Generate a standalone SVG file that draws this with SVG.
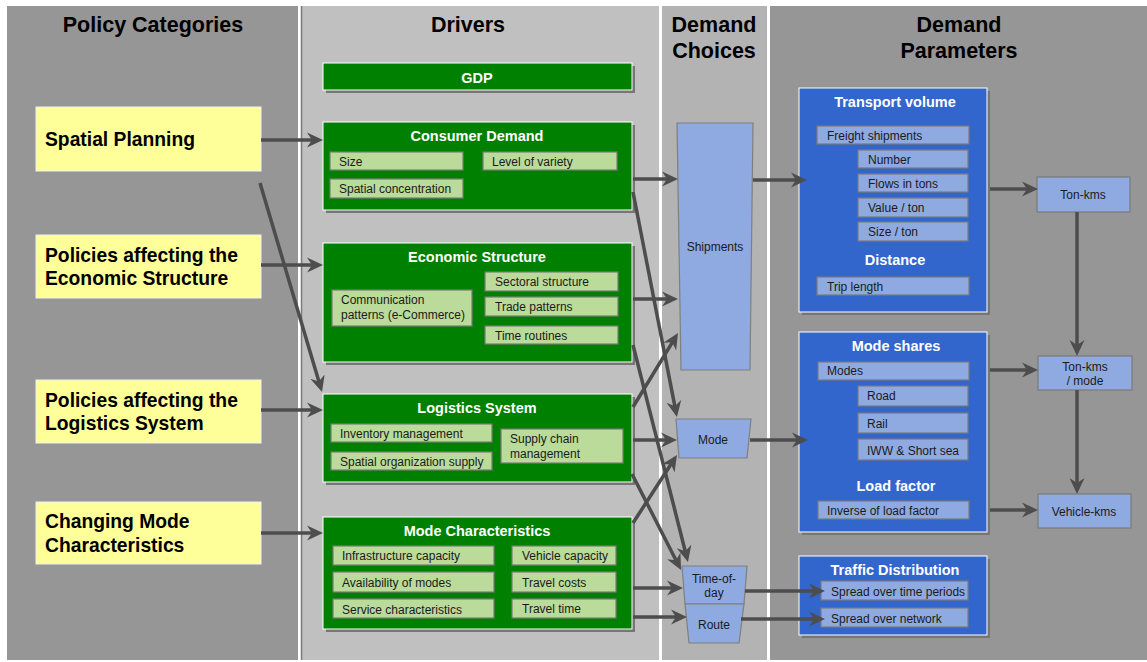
<svg xmlns="http://www.w3.org/2000/svg" width="1147" height="662" viewBox="0 0 1147 662">
  <defs>
    <marker id="arrow" viewBox="0 0 16 16" refX="10" refY="8" markerWidth="16" markerHeight="16" markerUnits="userSpaceOnUse" orient="auto">
      <path d="M0,0.5 L16,8 L0,15.5 L5,8 Z" fill="#4d4d4d"/>
    </marker>
  </defs>
  <style>
    text { font-family: "Liberation Sans", Arial, sans-serif; }
    .head { font-size: 21.5px; font-weight: bold; fill: #000; text-anchor: middle; }
    .policy rect { fill: #ffff99; stroke: #f0f0f0; stroke-width: 1; }
    .policy text { font-size: 19.3px; font-weight: bold; fill: #000; }
    .shadow { fill: #767676; }
    .green { fill: #008000; stroke: #ffffff; stroke-width: 1; }
    .blue { fill: #3366cc; stroke: #ffffff; stroke-width: 1; }
    .title { font-size: 14.5px; font-weight: bold; fill: #ffffff; text-anchor: middle; }
    .gsub { fill: #bbdb9b; stroke: #7a7a7a; stroke-width: 1.2; }
    .bsub { fill: #8faae0; stroke: #7a7a7a; stroke-width: 1.2; }
    .lbl { font-size: 12px; fill: #1a1a1a; }
    .mid { text-anchor: middle; }
    .choice { fill: #8faae0; stroke: #7f7f7f; stroke-width: 1.2; }
    .conn line { stroke: #4d4d4d; stroke-width: 3.5; marker-end: url(#arrow); }
  </style>

  <!-- column backgrounds -->
  <rect x="0" y="0" width="1147" height="662" fill="#ffffff"/>
  <rect x="7" y="6" width="291" height="654" fill="#969696"/>
  <rect x="302" y="6" width="357" height="654" fill="#c0c0c0"/>
  <line x1="301.5" y1="6" x2="301.5" y2="660" stroke="#7a7a7a" stroke-width="1.5"/>
  <rect x="662" y="6" width="105" height="654" fill="#b3b3b3"/>
  <rect x="770" y="6" width="377" height="654" fill="#969696"/>

  <!-- column headings -->
  <text class="head" x="153" y="32">Policy Categories</text>
  <text class="head" x="468" y="32">Drivers</text>
  <text class="head" x="714" y="32">Demand</text>
  <text class="head" x="714" y="58">Choices</text>
  <text class="head" x="959" y="32">Demand</text>
  <text class="head" x="959" y="58">Parameters</text>

  <!-- policy categories -->
  <g id="spatial-planning" class="policy">
    <rect x="36" y="107" width="225" height="64"/>
    <text x="45" y="146">Spatial Planning</text>
  </g>
  <g id="policy-economic" class="policy">
    <rect x="36" y="235" width="225" height="63"/>
    <text x="45" y="262">Policies affecting the</text>
    <text x="45" y="285">Economic Structure</text>
  </g>
  <g id="policy-logistics" class="policy">
    <rect x="36" y="380" width="225" height="63"/>
    <text x="45" y="407">Policies affecting the</text>
    <text x="45" y="430">Logistics System</text>
  </g>
  <g id="policy-mode" class="policy">
    <rect x="36" y="502" width="225" height="62"/>
    <text x="45" y="528">Changing Mode</text>
    <text x="45" y="552">Characteristics</text>
  </g>

  <!-- drivers -->
  <g id="gdp">
    <rect class="shadow" x="326" y="66" width="309" height="27"/>
    <rect class="green" x="323" y="63" width="309" height="27"/>
    <text class="title" x="477" y="82.5">GDP</text>
  </g>
  <g id="consumer-demand">
    <rect class="shadow" x="326" y="125" width="309" height="88"/>
    <rect class="green" x="323" y="122" width="309" height="88"/>
    <text class="title" x="477" y="141">Consumer Demand</text>
    <rect class="gsub" x="330" y="152" width="133" height="18"/>
    <text class="lbl" x="339" y="166">Size</text>
    <rect class="gsub" x="483" y="152" width="134" height="18"/>
    <text class="lbl" x="492" y="166">Level of variety</text>
    <rect class="gsub" x="330" y="179" width="133" height="19"/>
    <text class="lbl" x="339" y="193">Spatial concentration</text>
  </g>
  <g id="economic-structure">
    <rect class="shadow" x="326" y="246" width="309" height="119"/>
    <rect class="green" x="323" y="243" width="309" height="119"/>
    <text class="title" x="477" y="262">Economic Structure</text>
    <rect class="gsub" x="485" y="272" width="133" height="19"/>
    <text class="lbl" x="495" y="286">Sectoral structure</text>
    <rect class="gsub" x="485" y="297" width="133" height="19"/>
    <text class="lbl" x="495" y="311">Trade patterns</text>
    <rect class="gsub" x="485" y="326" width="133" height="18"/>
    <text class="lbl" x="495" y="340">Time routines</text>
    <rect class="gsub" x="332" y="290" width="140" height="36"/>
    <text class="lbl" x="341" y="304">Communication</text>
    <text class="lbl" x="341" y="319">patterns (e-Commerce)</text>
  </g>
  <g id="logistics-system">
    <rect class="shadow" x="326" y="397" width="309" height="88"/>
    <rect class="green" x="323" y="394" width="309" height="88"/>
    <text class="title" x="477" y="413">Logistics System</text>
    <rect class="gsub" x="331" y="424" width="161" height="18"/>
    <text class="lbl" x="340" y="438">Inventory management</text>
    <rect class="gsub" x="331" y="452" width="161" height="18"/>
    <text class="lbl" x="340" y="466">Spatial organization supply</text>
    <rect class="gsub" x="501" y="429" width="122" height="34"/>
    <text class="lbl" x="510" y="443">Supply chain</text>
    <text class="lbl" x="510" y="458">management</text>
  </g>
  <g id="mode-characteristics">
    <rect class="shadow" x="326" y="520" width="309" height="112"/>
    <rect class="green" x="323" y="517" width="309" height="112"/>
    <text class="title" x="477" y="536">Mode Characteristics</text>
    <rect class="gsub" x="333" y="546" width="161" height="19"/>
    <text class="lbl" x="342" y="560">Infrastructure capacity</text>
    <rect class="gsub" x="333" y="572" width="161" height="20"/>
    <text class="lbl" x="342" y="587">Availability of modes</text>
    <rect class="gsub" x="333" y="599" width="161" height="19"/>
    <text class="lbl" x="342" y="614">Service characteristics</text>
    <rect class="gsub" x="512" y="546" width="104" height="19"/>
    <text class="lbl" x="522" y="560">Vehicle capacity</text>
    <rect class="gsub" x="512" y="572" width="104" height="20"/>
    <text class="lbl" x="522" y="587">Travel costs</text>
    <rect class="gsub" x="512" y="599" width="104" height="19"/>
    <text class="lbl" x="522" y="613">Travel time</text>
  </g>

  <!-- demand choices -->
  <g id="shipments">
    <polygon class="choice" points="677,123 753,123 750,370 681,370"/>
    <text class="lbl mid" x="715" y="251">Shipments</text>
  </g>
  <g id="mode">
    <polygon class="choice" points="676,419 751,419 747,458 679,458"/>
    <text class="lbl mid" x="713" y="444">Mode</text>
  </g>
  <g id="time-of-day">
    <polygon class="choice" points="682,566 747,566 744,604 685,604"/>
    <text class="lbl mid" x="714" y="583">Time-of-</text>
    <text class="lbl mid" x="714" y="597">day</text>
  </g>
  <g id="route">
    <polygon class="choice" points="685,604 744,604 739,643 689,643"/>
    <text class="lbl mid" x="714" y="629">Route</text>
  </g>

  <!-- demand parameters -->
  <g id="transport-volume">
    <rect class="shadow" x="802" y="91" width="188" height="224"/>
    <rect class="blue" x="799" y="88" width="188" height="224"/>
    <text class="title" x="895" y="107">Transport volume</text>
    <rect class="bsub" x="817" y="126" width="152" height="18"/>
    <text class="lbl" x="827" y="140">Freight shipments</text>
    <rect class="bsub" x="858" y="150" width="110" height="18"/>
    <text class="lbl" x="868" y="164">Number</text>
    <rect class="bsub" x="858" y="174" width="110" height="18"/>
    <text class="lbl" x="868" y="188">Flows in tons</text>
    <rect class="bsub" x="858" y="198" width="110" height="19"/>
    <text class="lbl" x="868" y="212">Value / ton</text>
    <rect class="bsub" x="858" y="222" width="110" height="19"/>
    <text class="lbl" x="868" y="236">Size / ton</text>
    <text class="title" x="895" y="265">Distance</text>
    <rect class="bsub" x="817" y="277" width="152" height="18"/>
    <text class="lbl" x="827" y="291">Trip length</text>
  </g>
  <g id="mode-shares">
    <rect class="shadow" x="802" y="335" width="188" height="200"/>
    <rect class="blue" x="799" y="332" width="188" height="200"/>
    <text class="title" x="896" y="351">Mode shares</text>
    <rect class="bsub" x="818" y="362" width="151" height="18"/>
    <text class="lbl" x="827" y="375">Modes</text>
    <rect class="bsub" x="858" y="386" width="110" height="20"/>
    <text class="lbl" x="867" y="400">Road</text>
    <rect class="bsub" x="858" y="413" width="110" height="20"/>
    <text class="lbl" x="867" y="428">Rail</text>
    <rect class="bsub" x="858" y="439" width="110" height="21"/>
    <text class="lbl" x="867" y="455">IWW &amp; Short sea</text>
    <text class="title" x="896" y="491">Load factor</text>
    <rect class="bsub" x="818" y="501" width="151" height="18"/>
    <text class="lbl" x="827" y="515">Inverse of load factor</text>
  </g>
  <g id="traffic-distribution">
    <rect class="shadow" x="802" y="559" width="188" height="79"/>
    <rect class="blue" x="799" y="556" width="188" height="79"/>
    <text class="title" x="895" y="575">Traffic Distribution</text>
    <rect class="bsub" x="821" y="581" width="147" height="19"/>
    <text class="lbl" x="831" y="596">Spread over time periods</text>
    <rect class="bsub" x="821" y="608" width="147" height="19"/>
    <text class="lbl" x="831" y="623">Spread over network</text>
  </g>
  <g id="ton-kms">
    <rect class="bsub" x="1037" y="177" width="93" height="35"/>
    <text class="lbl mid" x="1083" y="199">Ton-kms</text>
  </g>
  <g id="ton-kms-mode">
    <rect class="bsub" x="1038" y="356" width="94" height="34"/>
    <text class="lbl mid" x="1085" y="371">Ton-kms</text>
    <text class="lbl mid" x="1085" y="385">/ mode</text>
  </g>
  <g id="vehicle-kms">
    <rect class="bsub" x="1038" y="494" width="93" height="34"/>
    <text class="lbl mid" x="1084" y="516">Vehicle-kms</text>
  </g>

  <!-- connectors (each line stops 6px short of its arrow tip) -->
  <g id="connectors" class="conn">
    <line x1="261" y1="140" x2="317" y2="140"/>
    <line x1="261" y1="265" x2="317" y2="265"/>
    <line x1="261" y1="410" x2="317" y2="410"/>
    <line x1="261" y1="533" x2="317" y2="533"/>
    <line x1="260" y1="183" x2="320.3" y2="386.2"/>

    <line x1="633" y1="179" x2="672" y2="179"/>
    <line x1="633" y1="299" x2="672" y2="299"/>
    <line x1="633" y1="440" x2="671" y2="440"/>
    <line x1="633" y1="588" x2="677" y2="588"/>
    <line x1="633" y1="617" x2="681" y2="617"/>
    <line x1="633" y1="192" x2="675.8" y2="411.1"/>
    <line x1="633" y1="407" x2="674.9" y2="338.1"/>
    <line x1="633" y1="523" x2="673.7" y2="460"/>
    <line x1="632" y1="474" x2="678.3" y2="564.7"/>
    <line x1="633" y1="345" x2="686.5" y2="556.2"/>

    <line x1="753" y1="180" x2="801" y2="180"/>
    <line x1="750" y1="440" x2="802" y2="440"/>
    <line x1="745" y1="591" x2="819" y2="591"/>
    <line x1="741" y1="619" x2="819" y2="619"/>

    <line x1="990" y1="189" x2="1032" y2="189"/>
    <line x1="990" y1="370" x2="1032" y2="370"/>
    <line x1="990" y1="510" x2="1032" y2="510"/>
    <line x1="1077" y1="212" x2="1077" y2="350"/>
    <line x1="1077" y1="390" x2="1077" y2="488"/>
  </g>
</svg>
